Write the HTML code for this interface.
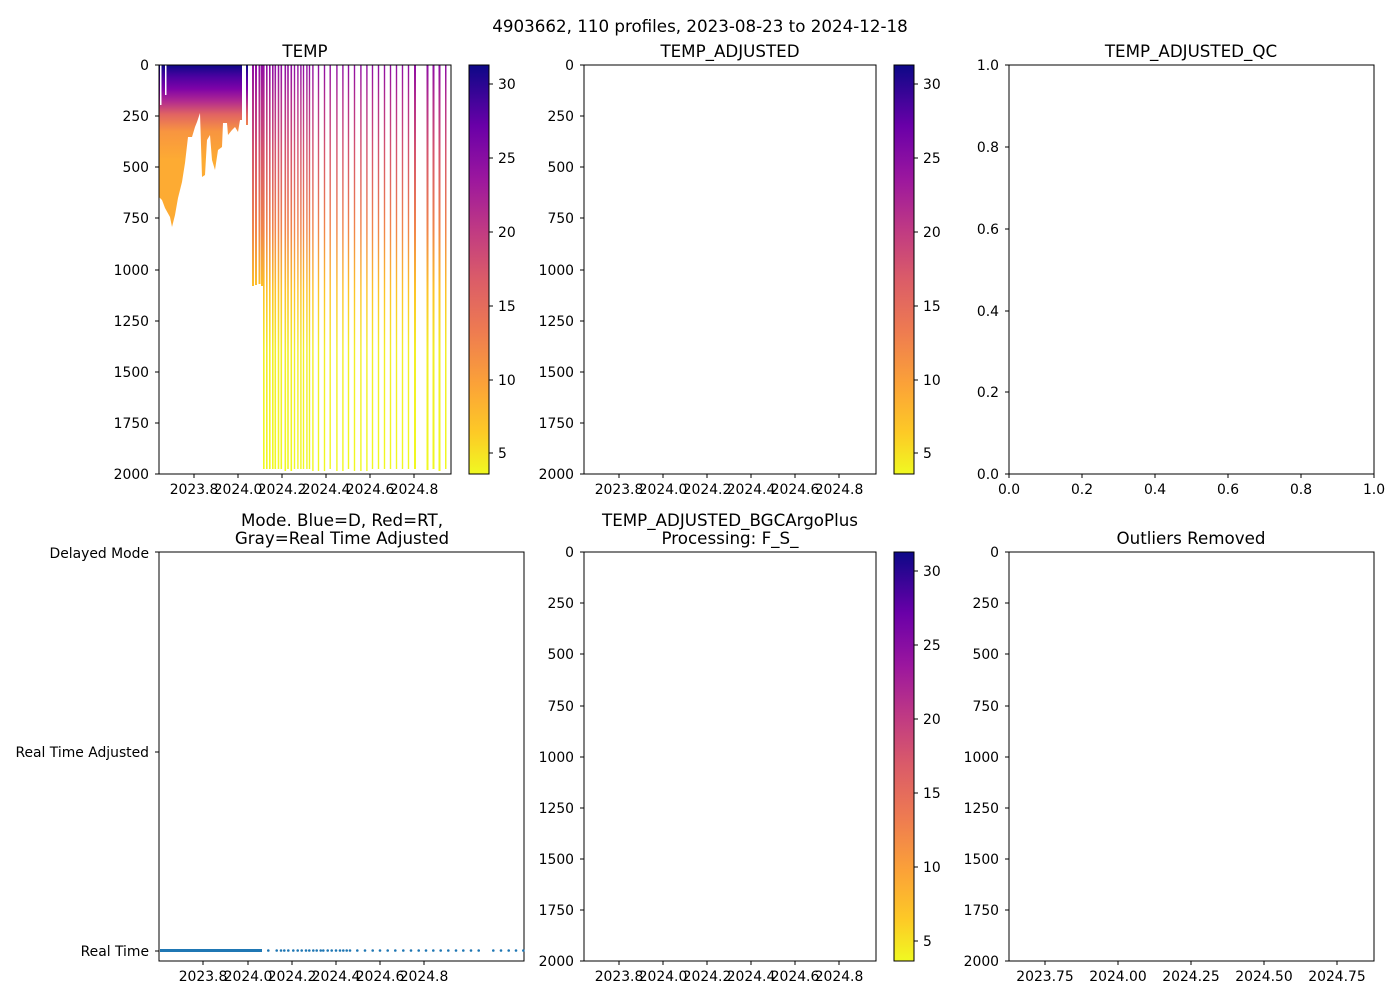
<!DOCTYPE html>
<html><head><meta charset="utf-8"><style>body{margin:0;background:#fff}svg{display:block}text{font-family:"DejaVu Sans","Liberation Sans",sans-serif;fill:#000}</style></head>
<body>
<svg width="1400" height="1000" viewBox="0 0 1400 1000" xmlns="http://www.w3.org/2000/svg">
<defs>
<linearGradient id="cb" x1="0" y1="1" x2="0" y2="0">
<stop offset="0" stop-color="#f0f921"/><stop offset="0.1" stop-color="#fdca26"/><stop offset="0.22" stop-color="#fba238"/><stop offset="0.35" stop-color="#ee7b51"/><stop offset="0.48" stop-color="#da5b69"/><stop offset="0.6" stop-color="#bf3984"/><stop offset="0.72" stop-color="#9c179e"/><stop offset="0.85" stop-color="#6a00a8"/><stop offset="1" stop-color="#0d0887"/>
</linearGradient>
<linearGradient id="deep" gradientUnits="userSpaceOnUse" x1="0" y1="65" x2="0" y2="474">
<stop offset="0" stop-color="#8f0da4"/><stop offset="0.09" stop-color="#b52f8c"/><stop offset="0.21" stop-color="#d5546e"/><stop offset="0.4" stop-color="#f1844b"/><stop offset="0.55" stop-color="#fdc328"/><stop offset="0.7" stop-color="#f3ee27"/><stop offset="1" stop-color="#f0f921"/>
</linearGradient>
<linearGradient id="dense" gradientUnits="userSpaceOnUse" x1="0" y1="65" x2="0" y2="160">
<stop offset="0" stop-color="#0d0887"/><stop offset="0.12" stop-color="#4a02a0"/><stop offset="0.25" stop-color="#7e03a8"/><stop offset="0.38" stop-color="#b12a90"/><stop offset="0.52" stop-color="#e16462"/><stop offset="0.7" stop-color="#f89540"/><stop offset="1" stop-color="#fdab33"/>
</linearGradient>
</defs>
<text x="700" y="32" font-size="16.7" text-anchor="middle">4903662, 110 profiles, 2023-08-23 to 2024-12-18</text>

<text x="305" y="57" font-size="16.7" text-anchor="middle">TEMP</text>
<polygon fill="url(#dense)" points="159,65 242,65 242,120 240,120 238,132 235,127 232,130 228,135 227,123 223,123 222,147 218,150 215,170 212,160 210,135 207,140 205,175 202,177 200,113 197,122 195,127 192,137 188,137 185,163 182,182 178,198 175,215 172,227 170,217 165,208 162,200 159,197"/>
<rect x="160" y="65" width="1.5" height="40" fill="#fff"/><rect x="165" y="65" width="1.5" height="30" fill="#fff"/>
<rect x="246" y="65" width="2" height="60" fill="url(#dense)"/>
<g fill="url(#deep)">
<rect x="252" y="65" width="2" height="221"/><rect x="255" y="65" width="2" height="220"/><rect x="258.5" y="65" width="2" height="219"/><rect x="261" y="65" width="2" height="221"/>
<rect x="263" y="65" width="1.6" height="404"/><rect x="266" y="65" width="1.6" height="404"/><rect x="269" y="65" width="1.6" height="404"/><rect x="272" y="65" width="1.6" height="404"/><rect x="274.5" y="65" width="1.6" height="404"/><rect x="277.7" y="65" width="1.6" height="404"/><rect x="280.5" y="65" width="1.6" height="404"/><rect x="284.5" y="65" width="1.6" height="406"/><rect x="287.2" y="65" width="1.6" height="404"/><rect x="290.5" y="65" width="1.6" height="406"/><rect x="293.8" y="65" width="1.4" height="404"/><rect x="297.2" y="65" width="1.4" height="404"/><rect x="300.2" y="65" width="1.4" height="404"/><rect x="302.8" y="65" width="1.4" height="404"/><rect x="306.2" y="65" width="1.4" height="404"/><rect x="308.8" y="65" width="1.4" height="404"/><rect x="312.2" y="65" width="1.4" height="406"/><rect x="317.8" y="65" width="1.4" height="406"/><rect x="323.8" y="65" width="1.4" height="406"/><rect x="329.5" y="65" width="1.4" height="404"/><rect x="336.2" y="65" width="1.4" height="406"/><rect x="342.2" y="65" width="1.4" height="406"/><rect x="347.8" y="65" width="1.4" height="404"/><rect x="353.8" y="65" width="1.4" height="406"/><rect x="360.2" y="65" width="1.4" height="406"/><rect x="366.2" y="65" width="1.4" height="406"/><rect x="371.8" y="65" width="1.4" height="404"/><rect x="377.8" y="65" width="1.4" height="404"/><rect x="383.8" y="65" width="1.4" height="404"/><rect x="389.8" y="65" width="1.4" height="404"/><rect x="395.8" y="65" width="1.4" height="404"/><rect x="401.8" y="65" width="1.4" height="404"/><rect x="407.8" y="65" width="1.4" height="404"/><rect x="414" y="65" width="2" height="404"/><rect x="426.5" y="65" width="2" height="405"/><rect x="432.5" y="65" width="2" height="404"/><rect x="438.5" y="65" width="2" height="406"/><rect x="445" y="65" width="1.5" height="404"/>
</g>
<rect x="159" y="65" width="292" height="409" fill="none" stroke="#000" stroke-width="1"/>
<g font-size="13.9" text-anchor="end">
<text x="149" y="70">0</text><text x="149" y="121">250</text><text x="149" y="172">500</text><text x="149" y="223">750</text><text x="149" y="275">1000</text><text x="149" y="326">1250</text><text x="149" y="377">1500</text><text x="149" y="428">1750</text><text x="149" y="479">2000</text>
<text x="574" y="70">0</text><text x="574" y="121">250</text><text x="574" y="172">500</text><text x="574" y="223">750</text><text x="574" y="275">1000</text><text x="574" y="326">1250</text><text x="574" y="377">1500</text><text x="574" y="428">1750</text><text x="574" y="479">2000</text>
<text x="574" y="557">0</text><text x="574" y="608">250</text><text x="574" y="659">500</text><text x="574" y="711">750</text><text x="574" y="762">1000</text><text x="574" y="813">1250</text><text x="574" y="864">1500</text><text x="574" y="915">1750</text><text x="574" y="966">2000</text>
<text x="999" y="557">0</text><text x="999" y="608">250</text><text x="999" y="659">500</text><text x="999" y="711">750</text><text x="999" y="762">1000</text><text x="999" y="813">1250</text><text x="999" y="864">1500</text><text x="999" y="915">1750</text><text x="999" y="966">2000</text>
<text x="999" y="479">0.0</text><text x="999" y="397">0.2</text><text x="999" y="316">0.4</text><text x="999" y="234">0.6</text><text x="999" y="152">0.8</text><text x="999" y="70">1.0</text>
<text x="149" y="558">Delayed Mode</text><text x="149" y="757">Real Time Adjusted</text><text x="149" y="956">Real Time</text>
</g>
<g stroke="#000" stroke-width="1">
<path d="M155,65h4M155,116h4M155,167h4M155,218h4M155,270h4M155,321h4M155,372h4M155,423h4M155,474h4"/>
<path d="M580,65h4M580,116h4M580,167h4M580,218h4M580,270h4M580,321h4M580,372h4M580,423h4M580,474h4"/>
<path d="M580,552h4M580,603h4M580,654h4M580,706h4M580,757h4M580,808h4M580,859h4M580,910h4M580,961h4"/>
<path d="M1005,552h4M1005,603h4M1005,654h4M1005,706h4M1005,757h4M1005,808h4M1005,859h4M1005,910h4M1005,961h4"/>
<path d="M1005,474h4M1005,392h4M1005,311h4M1005,229h4M1005,147h4M1005,65h4"/>
<path d="M155,552h4M155,752h4M155,951h4"/>
<path d="M194,474v4M238,474v4M282,474v4M326,474v4M370,474v4M414,474v4"/>
<path d="M619,474v4M663,474v4M707,474v4M751,474v4M795,474v4M839,474v4"/>
<path d="M619,961v4M663,961v4M707,961v4M751,961v4M795,961v4M839,961v4"/>
<path d="M203,961v4M248,961v4M292,961v4M336,961v4M380,961v4M424,961v4"/>
<path d="M1045,961v4M1118,961v4M1191,961v4M1264,961v4M1337,961v4"/>
<path d="M1009,474v4M1082,474v4M1155,474v4M1228,474v4M1301,474v4M1374,474v4"/>
<path d="M489,84h4M489,158h4M489,232h4M489,306h4M489,380h4M489,453h4"/>
<path d="M914,84h4M914,158h4M914,232h4M914,306h4M914,380h4M914,453h4"/>
<path d="M914,571h4M914,645h4M914,719h4M914,793h4M914,867h4M914,941h4"/>
</g>
<g font-size="13.9" text-anchor="middle">
<text x="194" y="494">2023.8</text><text x="238" y="494">2024.0</text><text x="282" y="494">2024.2</text><text x="326" y="494">2024.4</text><text x="370" y="494">2024.6</text><text x="414" y="494">2024.8</text>
<text x="619" y="494">2023.8</text><text x="663" y="494">2024.0</text><text x="707" y="494">2024.2</text><text x="751" y="494">2024.4</text><text x="795" y="494">2024.6</text><text x="839" y="494">2024.8</text>
<text x="619" y="981">2023.8</text><text x="663" y="981">2024.0</text><text x="707" y="981">2024.2</text><text x="751" y="981">2024.4</text><text x="795" y="981">2024.6</text><text x="839" y="981">2024.8</text>
<text x="203" y="981">2023.8</text><text x="248" y="981">2024.0</text><text x="292" y="981">2024.2</text><text x="336" y="981">2024.4</text><text x="380" y="981">2024.6</text><text x="424" y="981">2024.8</text>
<text x="1045" y="981">2023.75</text><text x="1118" y="981">2024.00</text><text x="1191" y="981">2024.25</text><text x="1264" y="981">2024.50</text><text x="1337" y="981">2024.75</text>
<text x="1009" y="494">0.0</text><text x="1082" y="494">0.2</text><text x="1155" y="494">0.4</text><text x="1228" y="494">0.6</text><text x="1301" y="494">0.8</text><text x="1374" y="494">1.0</text>
</g>
<g font-size="13.9">
<text x="498" y="89">30</text><text x="498" y="163">25</text><text x="498" y="237">20</text><text x="498" y="311">15</text><text x="498" y="385">10</text><text x="498" y="458">5</text>
<text x="923" y="89">30</text><text x="923" y="163">25</text><text x="923" y="237">20</text><text x="923" y="311">15</text><text x="923" y="385">10</text><text x="923" y="458">5</text>
<text x="923" y="576">30</text><text x="923" y="650">25</text><text x="923" y="724">20</text><text x="923" y="798">15</text><text x="923" y="872">10</text><text x="923" y="946">5</text>
</g>
<rect x="469" y="65" width="20" height="409" fill="url(#cb)" stroke="#000"/>
<rect x="894" y="65" width="20" height="409" fill="url(#cb)" stroke="#000"/>
<rect x="894" y="552" width="20" height="409" fill="url(#cb)" stroke="#000"/>
<g fill="none" stroke="#000">
<rect x="584" y="65" width="292" height="409"/>
<rect x="1009" y="65" width="365" height="409"/>
<rect x="159" y="552" width="365" height="409"/>
<rect x="584" y="552" width="292" height="409"/>
<rect x="1009" y="552" width="365" height="409"/>
</g>
<g font-size="16.7" text-anchor="middle">
<text x="730" y="57">TEMP_ADJUSTED</text>
<text x="1191" y="57">TEMP_ADJUSTED_QC</text>
<text x="342" y="526">Mode. Blue=D, Red=RT,</text>
<text x="342" y="544">Gray=Real Time Adjusted</text>
<text x="730" y="526">TEMP_ADJUSTED_BGCArgoPlus</text>
<text x="730" y="544">Processing: F_S_</text>
<text x="1191" y="544">Outliers Removed</text>
</g>
<g fill="#1f77b4">
<rect x="160" y="949" width="102" height="3"/>
<circle cx="268.3" cy="950.5" r="1.3"/><circle cx="276.7" cy="950.5" r="1.3"/><circle cx="281" cy="950.5" r="1.3"/><circle cx="284.3" cy="950.5" r="1.3"/><circle cx="288.3" cy="950.5" r="1.3"/><circle cx="293.3" cy="950.5" r="1.3"/><circle cx="297.7" cy="950.5" r="1.3"/><circle cx="301.7" cy="950.5" r="1.3"/><circle cx="306" cy="950.5" r="1.3"/><circle cx="309.3" cy="950.5" r="1.3"/><circle cx="313.3" cy="950.5" r="1.3"/><circle cx="316.7" cy="950.5" r="1.3"/><circle cx="320.7" cy="950.5" r="1.3"/><circle cx="323.3" cy="950.5" r="1.3"/><circle cx="327.7" cy="950.5" r="1.3"/><circle cx="331.7" cy="950.5" r="1.3"/><circle cx="336" cy="950.5" r="1.3"/><circle cx="340" cy="950.5" r="1.3"/><circle cx="343.3" cy="950.5" r="1.3"/><circle cx="346.7" cy="950.5" r="1.3"/><circle cx="350" cy="950.5" r="1.3"/><circle cx="357.3" cy="950.5" r="1.3"/><circle cx="365" cy="950.5" r="1.3"/><circle cx="372.7" cy="950.5" r="1.3"/><circle cx="380" cy="950.5" r="1.3"/><circle cx="387.7" cy="950.5" r="1.3"/><circle cx="395.3" cy="950.5" r="1.3"/><circle cx="403.3" cy="950.5" r="1.3"/><circle cx="411" cy="950.5" r="1.3"/><circle cx="418.7" cy="950.5" r="1.3"/><circle cx="426" cy="950.5" r="1.3"/><circle cx="433.3" cy="950.5" r="1.3"/><circle cx="440.7" cy="950.5" r="1.3"/><circle cx="448.3" cy="950.5" r="1.3"/><circle cx="456" cy="950.5" r="1.3"/><circle cx="463.3" cy="950.5" r="1.3"/><circle cx="471" cy="950.5" r="1.3"/><circle cx="478.7" cy="950.5" r="1.3"/><circle cx="493.3" cy="950.5" r="1.3"/><circle cx="501" cy="950.5" r="1.3"/><circle cx="508.7" cy="950.5" r="1.3"/><circle cx="516" cy="950.5" r="1.3"/><circle cx="523.3" cy="950.5" r="1.3"/>
</g>
</svg>
</body></html>
